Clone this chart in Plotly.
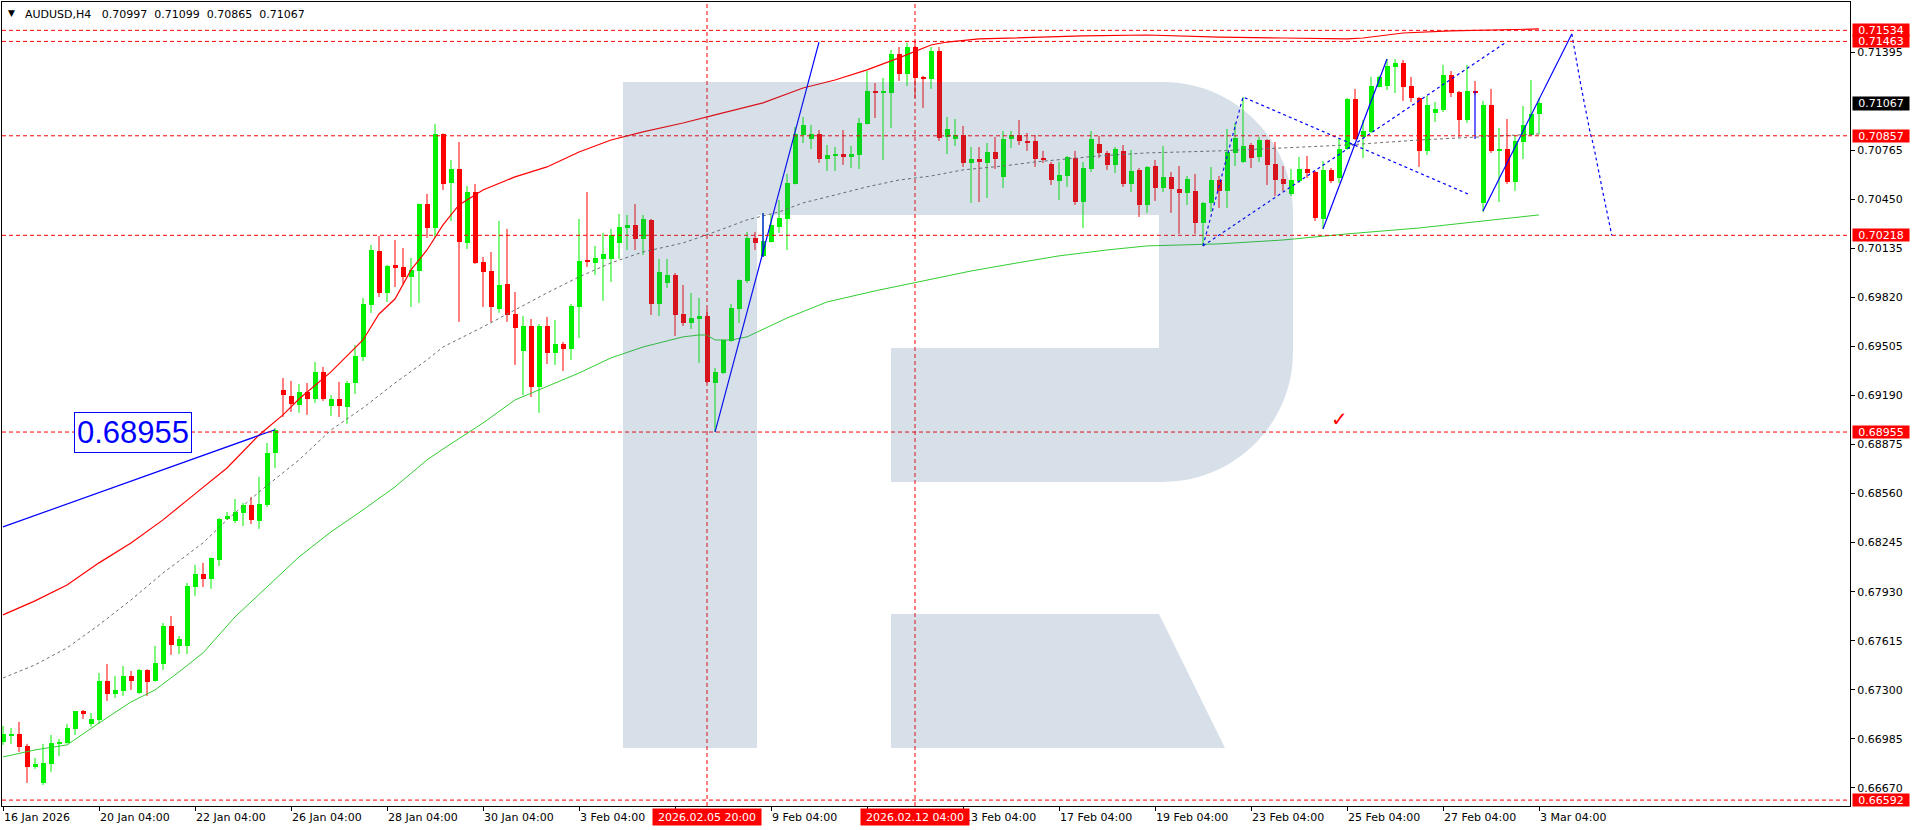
import plotly.graph_objects as go

# ---------------- data (H4 bars, index 0 = 16 Jan 2026 04:00) ----------------
symbol = "AUDUSD,H4"
opens = [0.66965,0.67004,0.67017,0.66940,0.66805,0.66702,0.66824,0.66953,0.66959,0.67049,
         0.67164,0.67081,0.67107,0.67357,0.67274,0.67293,0.67389,0.67280,0.67428,0.67357,
         0.67466,0.67710,0.67582,0.67582,0.67960,0.68044,0.68012,0.68134,0.68397,0.68384,
         0.68436,0.68487,0.68384,0.68487,0.68821,0.69225,0.69187,0.69129,0.69212,0.69167,
         0.69341,0.69122,0.69167,0.69116,0.69270,0.69437,0.69771,0.70118,0.69848,0.70028,
         0.70015,0.69951,0.69989,0.70419,0.70265,0.70869,0.70554,0.70644,0.70169,0.70496,
         0.70047,0.69989,0.69745,0.69906,0.69713,0.69476,0.69636,0.69244,0.69636,0.69463,
         0.69521,0.69488,0.69758,0.70053,0.70041,0.70066,0.70066,0.70169,0.70265,0.70285,
         0.70195,0.70317,0.69777,0.69912,0.69964,0.69713,0.69655,0.69681,0.69700,0.69270,
         0.69334,0.69540,0.69745,0.69925,0.70201,0.70085,0.70175,0.70272,0.70323,0.70548,
         0.70862,0.70837,0.70869,0.70708,0.70728,0.70740,0.70721,0.70734,0.70933,0.71145,
         0.71132,0.71132,0.71382,0.71254,0.71427,0.71235,0.71223,0.71402,0.70850,0.70837,
         0.70862,0.70683,0.70708,0.70683,0.70753,0.70593,0.70837,0.70862,0.70824,0.70824,
         0.70715,0.70676,0.70567,0.70599,0.70715,0.70432,0.70644,0.70805,0.70747,0.70670,
         0.70760,0.70548,0.70638,0.70413,0.70663,0.70522,0.70593,0.70516,0.70490,0.70503,
         0.70297,0.70426,0.70573,0.70503,0.70747,0.70689,0.70798,0.70721,0.70830,0.70676,
         0.70580,0.70484,0.70567,0.70644,0.70625,0.70323,0.70638,0.70586,0.70772,0.71093,
         0.70850,0.70882,0.71170,0.71177,0.71299,0.71325,0.71177,0.71100,0.70760,0.71004,
         0.71023,0.71248,0.71138,0.70959,0.71145,0.70426,0.71055,0.70760,0.70772,0.70561,
         0.70817,0.70862,0.70997]
highs = [0.67068,0.67055,0.67094,0.66953,0.66863,0.66953,0.67010,0.66985,0.67081,0.67164,
         0.67171,0.67152,0.67408,0.67466,0.67389,0.67453,0.67421,0.67434,0.67432,0.67582,
         0.67729,0.67774,0.67646,0.67986,0.68102,0.68115,0.68150,0.68403,0.68442,0.68525,
         0.68500,0.68538,0.68667,0.68885,0.68981,0.69302,0.69283,0.69264,0.69270,0.69405,
         0.69373,0.69193,0.69277,0.69283,0.69514,0.69816,0.70156,0.70214,0.70028,0.70188,
         0.70137,0.70073,0.70422,0.70484,0.70933,0.70872,0.70702,0.70817,0.70535,0.70548,
         0.70079,0.70111,0.70310,0.70259,0.69854,0.69700,0.69681,0.69649,0.69694,0.69675,
         0.69533,0.69777,0.70323,0.70496,0.70150,0.70233,0.70259,0.70355,0.70349,0.70419,
         0.70349,0.70323,0.70066,0.70066,0.69976,0.69899,0.69848,0.69816,0.69745,0.69366,
         0.69550,0.69777,0.69934,0.70240,0.70240,0.70362,0.70349,0.70445,0.70612,0.70914,
         0.70978,0.70927,0.70894,0.70798,0.70785,0.70894,0.70792,0.70971,0.71273,0.71196,
         0.71228,0.71408,0.71427,0.71455,0.71463,0.71242,0.71427,0.71427,0.70978,0.70965,
         0.70920,0.70785,0.70785,0.70811,0.70850,0.70888,0.70888,0.70959,0.70875,0.70862,
         0.70760,0.70689,0.70689,0.70728,0.70760,0.70689,0.70888,0.70856,0.70760,0.70785,
         0.70798,0.70766,0.70650,0.70663,0.70702,0.70792,0.70625,0.70663,0.70599,0.70612,
         0.70432,0.70657,0.70599,0.70901,0.70940,0.71106,0.70811,0.70850,0.70835,0.70817,
         0.70663,0.70644,0.70721,0.70728,0.70631,0.70695,0.70650,0.70837,0.71100,0.71158,
         0.70959,0.71235,0.71242,0.71350,0.71350,0.71344,0.71235,0.71106,0.71113,0.71074,
         0.71312,0.71273,0.71145,0.71312,0.71209,0.71081,0.71158,0.70907,0.70965,0.70862,
         0.71048,0.71215,0.71099]
lows = [0.66946,0.66953,0.66901,0.66702,0.66792,0.66689,0.66773,0.66875,0.66955,0.67010,
        0.67113,0.67062,0.67081,0.67229,0.67248,0.67261,0.67299,0.67274,0.67261,0.67352,
        0.67428,0.67524,0.67530,0.67530,0.67903,0.67960,0.67948,0.68095,0.68391,0.68371,
        0.68352,0.68365,0.68333,0.68474,0.68724,0.69052,0.69084,0.69078,0.69065,0.69142,
        0.69155,0.69058,0.69052,0.69007,0.69200,0.69411,0.69720,0.69822,0.69790,0.69886,
        0.69906,0.69758,0.69784,0.70201,0.70201,0.70509,0.70310,0.69662,0.70130,0.70034,
        0.69758,0.69662,0.69720,0.69662,0.69386,0.69193,0.69180,0.69078,0.69392,0.69386,
        0.69347,0.69418,0.69559,0.70015,0.69964,0.69797,0.69919,0.70066,0.70124,0.70124,
        0.70092,0.69707,0.69700,0.69880,0.69572,0.69636,0.69617,0.69399,0.69270,0.68955,
        0.69328,0.69535,0.69655,0.69912,0.70124,0.70079,0.70172,0.70233,0.70124,0.70545,
        0.70811,0.70772,0.70683,0.70631,0.70631,0.70670,0.70650,0.70644,0.70930,0.70971,
        0.70702,0.70907,0.71209,0.71177,0.71100,0.71036,0.71158,0.70824,0.70740,0.70792,
        0.70657,0.70426,0.70432,0.70458,0.70644,0.70522,0.70779,0.70798,0.70760,0.70657,
        0.70683,0.70541,0.70445,0.70529,0.70413,0.70265,0.70625,0.70715,0.70638,0.70618,
        0.70529,0.70496,0.70336,0.70362,0.70439,0.70496,0.70362,0.70227,0.70413,0.70227,
        0.70150,0.70368,0.70394,0.70394,0.70663,0.70683,0.70650,0.70689,0.70541,0.70471,
        0.70503,0.70471,0.70554,0.70586,0.70310,0.70259,0.70554,0.70554,0.70768,0.70830,
        0.70715,0.70875,0.71167,0.71151,0.71132,0.71081,0.71074,0.70657,0.70734,0.70946,
        0.71010,0.71106,0.70850,0.70940,0.71119,0.70368,0.70747,0.70432,0.70548,0.70503,
        0.70708,0.70856,0.70865]
closes = [0.67017,0.67017,0.66933,0.66805,0.66824,0.66831,0.66959,0.66965,0.67055,0.67164,
          0.67145,0.67113,0.67357,0.67274,0.67299,0.67389,0.67357,0.67428,0.67351,0.67473,
          0.67710,0.67588,0.67627,0.67967,0.68044,0.68012,0.68147,0.68397,0.68416,0.68442,
          0.68487,0.68391,0.68493,0.68821,0.68968,0.69193,0.69135,0.69212,0.69167,0.69341,
          0.69167,0.69167,0.69122,0.69270,0.69443,0.69777,0.70124,0.69848,0.70021,0.70008,
          0.69951,0.69996,0.70419,0.70265,0.70869,0.70548,0.70644,0.70175,0.70496,0.70041,
          0.69983,0.69758,0.69899,0.69707,0.69623,0.69636,0.69244,0.69636,0.69463,0.69521,
          0.69488,0.69764,0.70053,0.70047,0.70073,0.70098,0.70220,0.70272,0.70285,0.70195,
          0.70323,0.69777,0.69983,0.69964,0.69707,0.69655,0.69687,0.69700,0.69277,0.69341,
          0.69546,0.69752,0.69931,0.70201,0.70169,0.70182,0.70285,0.70329,0.70554,0.70869,
          0.70927,0.70869,0.70708,0.70734,0.70740,0.70721,0.70740,0.70940,0.71145,0.71132,
          0.71138,0.71382,0.71254,0.71427,0.71228,0.71223,0.71402,0.70843,0.70901,0.70862,
          0.70683,0.70708,0.70689,0.70753,0.70708,0.70837,0.70862,0.70824,0.70817,0.70708,
          0.70702,0.70573,0.70606,0.70721,0.70432,0.70650,0.70837,0.70747,0.70670,0.70772,
          0.70548,0.70631,0.70413,0.70657,0.70522,0.70593,0.70516,0.70490,0.70580,0.70297,
          0.70426,0.70573,0.70503,0.70753,0.70843,0.70792,0.70715,0.70830,0.70670,0.70573,
          0.70548,0.70573,0.70644,0.70618,0.70329,0.70638,0.70567,0.70772,0.71093,0.70837,
          0.70888,0.71177,0.71235,0.71305,0.71325,0.71170,0.71100,0.70760,0.71055,0.71029,
          0.71248,0.71132,0.70959,0.71145,0.71138,0.71055,0.70760,0.70772,0.70561,0.70824,
          0.70927,0.70997,0.71067]

# moving averages (bar index, price)
red_ma_idx = [0,4,8,12,16,20,24,28,32,35,37,41,45,47,49,51,53,55,57,60,64,68,72,76,80,85,89,93,95,100,
              104,108,112,116,118,122,129,135,143,152,160,168,170,175,181,192]
red_ma_val = [0.67781,0.67871,0.67973,0.68115,0.68243,0.68391,0.68558,0.68724,0.68936,0.69065,
              0.69167,0.69341,0.69546,0.69713,0.69809,0.69996,0.70124,0.70285,0.70413,0.70509,
              0.70593,0.70657,0.70753,0.70830,0.70882,0.70939,0.70991,0.71042,0.71068,0.71164,
              0.71215,0.71280,0.71357,0.71440,0.71459,0.71479,0.71491,0.71498,0.71504,0.71491,
              0.71485,0.71479,0.71485,0.71517,0.71530,0.71543]
gray_ma_idx = [0,4,8,12,16,20,25,28,32,37,41,45,49,53,55,60,64,68,72,76,80,85,89,93,97,100,104,108,
               112,116,120,125,129,133,137,143,152,160,168,177,185,192]
gray_ma_val = [0.67376,0.67460,0.67569,0.67717,0.67877,0.68050,0.68243,0.68391,0.68570,0.68776,
               0.68968,0.69110,0.69270,0.69418,0.69501,0.69630,0.69739,0.69848,0.69951,0.70041,
               0.70111,0.70169,0.70240,0.70317,0.70368,0.70426,0.70477,0.70529,0.70573,0.70599,
               0.70638,0.70663,0.70689,0.70708,0.70728,0.70747,0.70760,0.70779,0.70798,0.70830,
               0.70850,0.70869]
green_ma_idx = [0,4,8,12,16,19,22,25,29,33,37,41,45,49,53,55,60,64,68,72,76,80,85,87,88,89,91,93,98,
                103,109,115,121,126,132,138,143,152,160,168,177,185,192]
green_ma_val = [0.66869,0.66914,0.66946,0.67087,0.67222,0.67299,0.67415,0.67537,0.67768,0.67960,
                0.68153,0.68314,0.68455,0.68603,0.68776,0.68846,0.69013,0.69161,0.69245,0.69334,
                0.69431,0.69501,0.69566,0.69578,0.69578,0.69546,0.69546,0.69566,0.69687,0.69790,
                0.69861,0.69925,0.69989,0.70034,0.70086,0.70124,0.70150,0.70163,0.70188,0.70227,
                0.70265,0.70310,0.70349]

# drawn objects
levels = [0.71534, 0.71463, 0.70857, 0.70218, 0.68955, 0.66592]
marked_bars = [88, 114]
marked_labels = ["2026.02.05 20:00", "2026.02.12 04:00"]
trend_lines = [([0, 34], [0.68346, 0.68970]),
               ([89, 102], [0.68955, 0.71459]),
               ([165, 173], [0.70259, 0.71350]),
               ([185, 196.1], [0.70374, 0.71511]),
               ([95, 95], [0.70079, 0.70362]),
               ([184, 184], [0.70837, 0.71145])]
forecast_x = [196.1, 197.2, 198.4, 198.8, 200.0, 201.1]
forecast_y = [0.71511, 0.71190, 0.70875, 0.70800, 0.70490, 0.70218]
zigzag_x = [150, 155, 183.1]
zigzag_y = [0.70150, 0.71106, 0.70484]
channel_x = [150, 187.75]
channel_y = [0.70150, 0.71453]

date_tick_idx = [0, 12, 24, 36, 48, 60, 72, 96, 120, 132, 144, 156, 168, 180, 192]
date_tick_txt = ["16 Jan 2026", "20 Jan 04:00", "22 Jan 04:00", "26 Jan 04:00", "28 Jan 04:00",
                 "30 Jan 04:00", "3 Feb 04:00", "9 Feb 04:00", "13 Feb 04:00", "17 Feb 04:00",
                 "19 Feb 04:00", "23 Feb 04:00", "25 Feb 04:00", "27 Feb 04:00", "3 Mar 04:00"]
price_ticks = [0.71395, 0.70765, 0.70450, 0.70135, 0.69820, 0.69505, 0.69190, 0.68875,
               0.68560, 0.68245, 0.67930, 0.67615, 0.67300, 0.66985, 0.66670]

# ---------------- figure ----------------
W, H = 1914, 830
ML, MR, MT, MB = 2, 64, 2, 24
FONT = "DejaVu Sans"
BULL, BEAR = "#00F000", "#FF0000"

n = len(opens)
idx = list(range(n))
bull = [i for i in idx if closes[i] >= opens[i]]
bear = [i for i in idx if closes[i] < opens[i]]

fig = go.Figure()

for ids, col in ((bull, BULL), (bear, BEAR)):
    wx, wy = [], []
    for i in ids:
        wx += [i, i, None]
        wy += [lows[i], highs[i], None]
    fig.add_trace(go.Scatter(x=wx, y=wy, mode="lines", line=dict(color=col, width=1),
                             hoverinfo="skip"))
for ids, col in ((bull, BULL), (bear, BEAR)):
    fig.add_trace(go.Bar(x=ids,
                         base=[min(opens[i], closes[i]) for i in ids],
                         y=[max(abs(closes[i] - opens[i]), 0.00007) for i in ids],
                         width=0.625, marker=dict(color=col, line=dict(width=0)),
                         hoverinfo="skip"))

fig.add_trace(go.Scatter(x=gray_ma_idx, y=gray_ma_val, mode="lines",
                         line=dict(color="#6E6E6E", width=1, dash="3px,3px")))
fig.add_trace(go.Scatter(x=green_ma_idx, y=green_ma_val, mode="lines",
                         line=dict(color="#32CD32", width=1)))
fig.add_trace(go.Scatter(x=red_ma_idx, y=red_ma_val, mode="lines",
                         line=dict(color="#FF0000", width=1.2)))

for tx, ty in trend_lines:
    fig.add_trace(go.Scatter(x=tx, y=ty, mode="lines", line=dict(color="#0000FF", width=1.2)))
for tx, ty in ((forecast_x, forecast_y), (zigzag_x, zigzag_y), (channel_x, channel_y)):
    fig.add_trace(go.Scatter(x=tx, y=ty, mode="lines",
                             line=dict(color="#0000FF", width=1.2, dash="3px,3px")))

shapes = []
for lv in levels:
    shapes.append(dict(type="line", xref="paper", x0=0, x1=1, yref="y", y0=lv, y1=lv,
                       line=dict(color="#FF0000", width=1, dash="4px,3px"), layer="above"))
for b in marked_bars:
    shapes.append(dict(type="line", xref="x", x0=b, x1=b, yref="paper", y0=0, y1=1,
                       line=dict(color="#FF0000", width=1, dash="4px,3px"), layer="above"))

# watermark logo (pixel geometry converted to paper space)
PW, PH = W - ML - MR, H - MT - MB
def fx(px):
    return (px - ML) / PW
def fy(py):
    return (MT + PH - py) / PH
def path(pts):
    out = []
    for cmd, *xy in pts:
        coords = " ".join(f"{fx(xy[k]):.5f},{fy(xy[k+1]):.5f}" for k in range(0, len(xy), 2))
        out.append(f"{cmd} {coords}" if coords else cmd)
    return " ".join(out)

K = 0.5523 * 130
logo_paths = [
    path([("M", 623, 82), ("L", 757, 82), ("L", 757, 748), ("L", 623, 748), ("Z",)]),
    path([("M", 757, 82), ("L", 1163, 82),
          ("C", 1163 + K, 82, 1293, 212 - K, 1293, 212),
          ("L", 1293, 352),
          ("C", 1293, 352 + K, 1163 + K, 482, 1163, 482),
          ("L", 891, 482), ("L", 891, 348), ("L", 1159, 348), ("L", 1159, 215),
          ("L", 757, 215), ("Z",)]),
    path([("M", 891, 614), ("L", 1159, 614), ("L", 1225, 748), ("L", 891, 748), ("Z",)]),
]
for p in logo_paths:
    shapes.append(dict(type="path", xref="paper", yref="paper", path=p,
                       fillcolor="rgba(54,98,147,0.2)", line=dict(width=0), layer="above"))

ann = []
SP = "\u00a0"
# header
ann.append(dict(xref="paper", yref="paper", x=0, y=1, xanchor="left", yanchor="top",
                xshift=4, yshift=-4, text="▼", showarrow=False,
                font=dict(family=FONT, size=9, color="#000000")))
hdr_vals = (SP * 2).join(f"{v:.5f}" for v in (opens[-1], highs[-1], lows[-1], closes[-1]))
ann.append(dict(xref="paper", yref="paper", x=0, y=1, xanchor="left", yanchor="top",
                xshift=21, yshift=-4, showarrow=False,
                text=f"{symbol}{SP * 3}{hdr_vals}",
                font=dict(family=FONT, size=11, color="#000000")))
# date labels
for ti, tt in zip(date_tick_idx, date_tick_txt):
    ann.append(dict(xref="x", yref="paper", x=ti, y=0, xanchor="left", yanchor="top",
                    xshift=-1, yshift=-3, text=tt, showarrow=False,
                    font=dict(family=FONT, size=11, color="#000000")))
for b, lab in zip(marked_bars, marked_labels):
    ann.append(dict(xref="x", yref="paper", x=b, y=0, xanchor="center", yanchor="top",
                    yshift=-2, text=lab, showarrow=False, bgcolor="#FF0000",
                    width=106, height=14, borderpad=1,
                    font=dict(family=FONT, size=11, color="#FFFFFF")))
# right-side price boxes
for lv in levels:
    ann.append(dict(xref="paper", yref="y", x=1, y=lv, xanchor="left", yanchor="middle",
                    xshift=2, text=f"{lv:.5f}", showarrow=False, bgcolor="#FF0000",
                    width=56, height=12, borderpad=0,
                    font=dict(family=FONT, size=11, color="#FFFFFF")))
ann.append(dict(xref="paper", yref="y", x=1, y=closes[-1], xanchor="left", yanchor="middle",
                xshift=2, text=f"{closes[-1]:.5f}", showarrow=False, bgcolor="#000000",
                width=56, height=13, borderpad=0,
                font=dict(family=FONT, size=11, color="#FFFFFF")))
# big level label
ann.append(dict(xref="x", yref="y", x=16.25, y=levels[4], xanchor="center", yanchor="middle",
                text=f"{levels[4]:.5f}", showarrow=False, bgcolor="#FFFFFF",
                bordercolor="#0000FF", borderwidth=1, borderpad=2,
                font=dict(family="Liberation Sans", size=31, color="#0000FF")))
# check mark
ann.append(dict(xref="x", yref="y", x=167, y=0.6904, text="✓", showarrow=False,
                font=dict(family=FONT, size=20, color="#FF0000")))

fig.update_layout(
    width=W, height=H, margin=dict(l=ML, r=MR, t=MT, b=MB),
    paper_bgcolor="#FFFFFF", plot_bgcolor="#FFFFFF",
    showlegend=False, barmode="overlay", bargap=0,
    shapes=shapes, annotations=ann,
    xaxis=dict(range=[-0.125, 230.875], showgrid=False, zeroline=False,
               showline=True, linecolor="#000000", linewidth=1, mirror=True,
               ticks="outside", tickvals=list(range(0, 193, 12)), ticklen=4,
               tickcolor="#000000", showticklabels=False),
    yaxis=dict(range=[0.66554, 0.71716], side="right", showgrid=False, zeroline=False,
               showline=True, linecolor="#000000", linewidth=1, mirror=True,
               ticks="outside", ticklen=4, tickcolor="#000000",
               tickvals=price_ticks, ticktext=[f"{v:.5f}" for v in price_ticks],
               tickfont=dict(family=FONT, size=11, color="#000000")),
)

fig.write_html("out.html", config={"displayModeBar": False},
               post_script="document.body.style.margin='0';")
